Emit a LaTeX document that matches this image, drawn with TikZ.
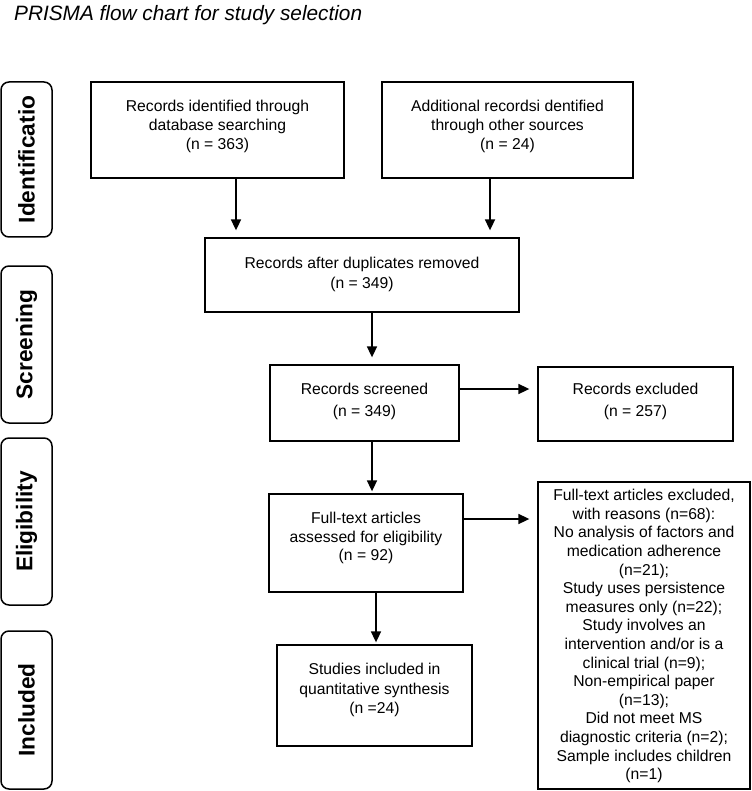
\documentclass[tikz,border=0pt]{standalone}
\usepackage{fontspec}
\setmainfont{Liberation Sans}
\usetikzlibrary{arrows.meta}

\begin{document}
\begin{tikzpicture}[x=1pt, y=-1pt,
    box/.style={draw, line width=1.3pt, align=center, inner sep=0pt, text depth=4pt, font=\fontsize{15.7}{19}\selectfont},
    phase/.style={draw, line width=1.5pt, rounded corners=8pt, rotate=90, inner sep=0pt, minimum height=51pt, font=\fontsize{22.7}{26}\selectfont\bfseries},
    arr/.style={line width=1.7pt, -{Triangle[length=11pt, width=10pt]}}]

    \useasboundingbox (0,0) rectangle (751,791);

    % Title
    \node[anchor=base west, inner sep=0pt, font=\fontsize{20.8}{24}\selectfont\itshape] (title) at (14,20.7) {PRISMA flow chart for study selection};

    % Phase labels on the left
    \node[phase, minimum width=155pt] (ident) at (26.5,159.5) {Identificatio};
    \node[phase, minimum width=157pt] (screen) at (26.5,344.5) {Screening};
    \node[phase, minimum width=167pt] (elig) at (26.5,521.5) {Eligibility};
    \node[phase, minimum width=158pt] (incl) at (26.5,710) {Included};

    % Identification
    \node[box, minimum width=253pt, minimum height=96pt, text height=43.2pt] (dbase) at (217.5,130) {Records identified through\\database searching\\(n = 363)};
    \node[box, minimum width=251pt, minimum height=96pt, text height=43.2pt] (other) at (507.5,130) {Additional recordsi dentified\\through other sources\\(n = 24)};

    % Screening
    \node[box, minimum width=314pt, minimum height=74pt, text height=31.2pt, font=\fontsize{15.7}{20}\selectfont] (dupl) at (362,275) {Records after duplicates removed\\(n = 349)};
    \node[box, minimum width=189pt, minimum height=76pt, text height=30.2pt, font=\fontsize{15.7}{21.5}\selectfont] (screened) at (364.5,403) {Records screened\\(n = 349)};
    \node[box, minimum width=195pt, minimum height=74pt, text height=28.2pt, font=\fontsize{15.7}{21.5}\selectfont] (excl) at (635.5,404) {Records excluded\\(n = 257)};

    % Eligibility
    \node[box, minimum width=194pt, minimum height=98pt, text height=39.6pt, font=\fontsize{15.7}{18.6}\selectfont] (full) at (366,543) {Full-text articles\\assessed for eligibility\\(n = 92)};
    \node[box, minimum width=212pt, minimum height=307pt, text height=292.2pt, font=\fontsize{15.7}{18.6}\selectfont] (fullexcl) at (644,635.5) {Full-text articles excluded,\\with reasons (n=68):\\No analysis of factors and\\medication adherence\\(n=21);\\Study uses persistence\\measures only (n=22);\\Study involves an\\intervention and/or is a\\clinical trial (n=9);\\Non-empirical paper\\(n=13);\\Did not meet MS\\diagnostic criteria (n=2);\\Sample includes children\\(n=1)};

    % Included
    \node[box, minimum width=195pt, minimum height=101pt, text height=40.2pt, font=\fontsize{15.7}{19.5}\selectfont] (synth) at (374.5,695.5) {Studies included in\\quantitative synthesis\\(n =24)};

    % Arrows
    \draw[arr, shorten >=7pt] ([xshift=18.5pt]dbase.south) -- ([xshift=18.5pt]dbase.south |- dupl.north);
    \draw[arr, shorten >=7pt] ([xshift=-17.5pt]other.south) -- ([xshift=-17.5pt]other.south |- dupl.north);
    \draw[arr, shorten >=7pt] ([xshift=10pt]dupl.south) -- ([xshift=10pt]dupl.south |- screened.north);
    \draw[arr, shorten >=8pt] ([yshift=14pt]screened.east) -- ([yshift=14pt]screened.east -| excl.west);
    \draw[arr, shorten >=2pt] ([xshift=7.5pt]screened.south) -- ([xshift=7.5pt]screened.south |- full.north);
    \draw[arr, shorten >=8pt] ([yshift=24pt]full.east) -- ([yshift=24pt]full.east -| fullexcl.west);
    \draw[arr, shorten >=2pt] ([xshift=10pt]full.south) -- ([xshift=10pt]full.south |- synth.north);
\end{tikzpicture}
\end{document}
